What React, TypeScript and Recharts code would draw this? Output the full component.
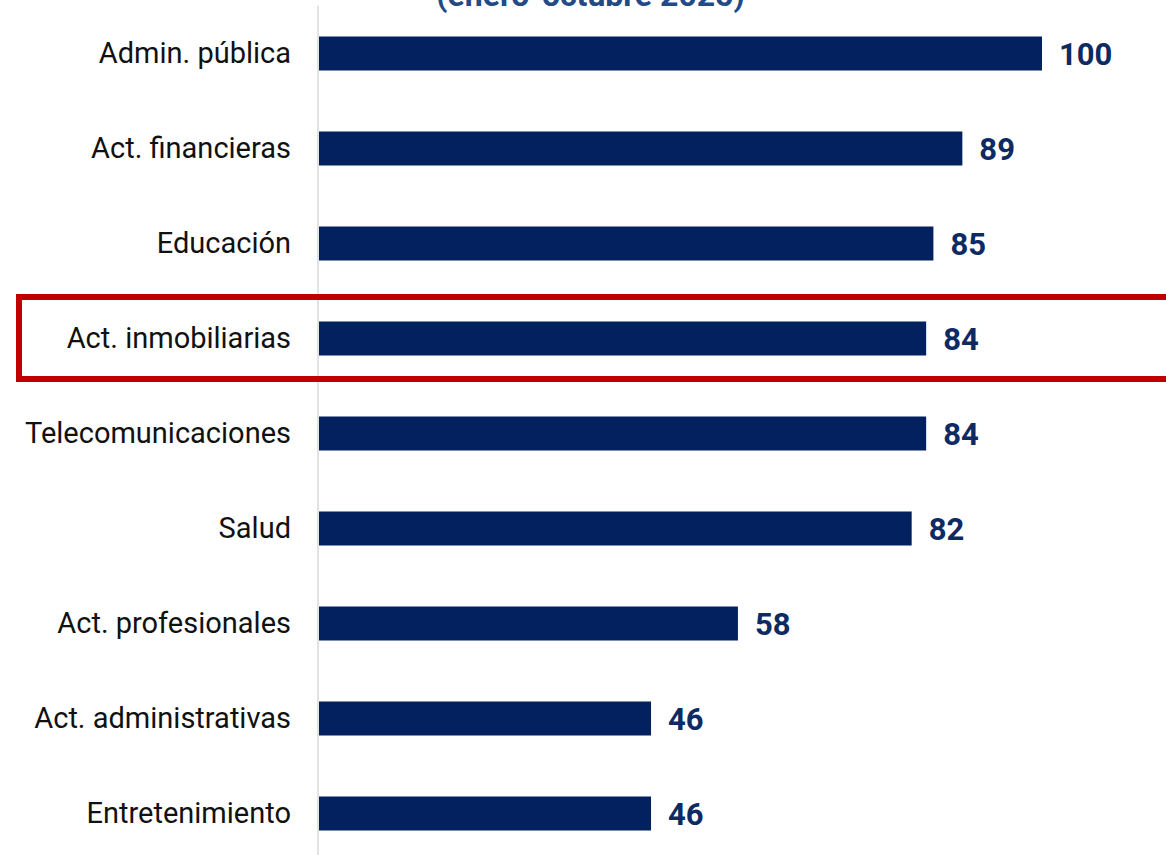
import React from 'react';
import { BarChart, Bar, XAxis, YAxis, LabelList } from 'recharts';

const sectors = [
  'Admin. pública',
  'Act. financieras',
  'Educación',
  'Act. inmobiliarias',
  'Telecomunicaciones',
  'Salud',
  'Act. profesionales',
  'Act. administrativas',
  'Entretenimiento',
];
const values = [100, 89, 85, 84, 84, 82, 58, 46, 46];

const data = sectors.map((name, i) => ({ name, value: values[i] }));

const BAR_COLOR = '#03215F';

export default function App() {
  return (
    <div
      style={{
        position: 'absolute',
        left: 0,
        top: 0,
        width: 1166,
        height: 855,
        overflow: 'hidden',
        background: '#fff',
        fontFamily: 'Roboto, sans-serif',
      }}
    >
      <div
        style={{
          position: 'absolute',
          top: -23,
          left: 0,
          width: 1181,
          textAlign: 'center',
          fontSize: 32,
          fontWeight: 700,
          color: '#224A86',
          lineHeight: '36px',
        }}
      >
        (enero-octubre 2025)
      </div>
      <BarChart
        width={1166}
        height={862}
        data={data}
        layout="vertical"
        margin={{ top: 5.5, right: 124, bottom: 1.5, left: 0 }}
        barCategoryGap={30}
      >
        <XAxis type="number" domain={[0, 100]} hide />
        <YAxis
          type="category"
          dataKey="name"
          width={318}
          interval={0}
          tickLine={false}
          tickSize={0}
          tickMargin={27}
          axisLine={{ stroke: '#e3e3e3', strokeWidth: 2 }}
          tick={{ fill: '#111', fontSize: 29, fontFamily: 'Roboto, sans-serif' }}
        />
        <Bar dataKey="value" fill={BAR_COLOR} barSize={34} isAnimationActive={false}>
          <LabelList
            dataKey="value"
            position="right"
            offset={17}
            style={{ fill: '#0D2A63', fontSize: 31, fontWeight: 700, fontFamily: 'Roboto, sans-serif' }}
          />
        </Bar>
      </BarChart>
      <div
        style={{
          position: 'absolute',
          left: 16,
          top: 294,
          width: 1166,
          height: 88,
          boxSizing: 'border-box',
          border: '6px solid #C00000',
          pointerEvents: 'none',
        }}
      />
    </div>
  );
}
